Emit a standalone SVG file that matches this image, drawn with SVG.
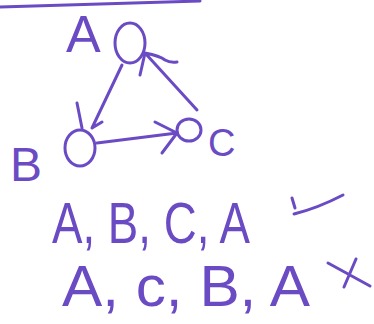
<svg xmlns="http://www.w3.org/2000/svg" width="374" height="324" viewBox="0 0 374 324">
<style>
.ink{fill:none;stroke:#6a4bc4;stroke-width:3;stroke-linecap:round;stroke-linejoin:round}
.lbl{fill:#6a4bc4;font-family:"Liberation Sans",Arial,sans-serif}
.seq{fill:#6a4bc4;font-family:"Liberation Sans",Arial,sans-serif;font-size:58px}
</style>
<rect width="374" height="324" fill="#fff"/>
<path class="ink" d="M0 7 L200 1" stroke-width="2.5"/>
<g id="node-A">
<ellipse class="ink" cx="130" cy="43" rx="15" ry="20"/>
<text class="lbl" x="66" y="52" font-size="52">A</text>
</g>
<g id="node-B">
<ellipse class="ink" cx="80" cy="148" rx="15" ry="18"/>
<text class="lbl" x="10" y="181" font-size="48">B</text>
</g>
<g id="node-C">
<ellipse class="ink" cx="189" cy="130" rx="12" ry="11"/>
<text class="lbl" x="208" y="156" font-size="38">C</text>
</g>
<g id="connectors">
<path class="ink" d="M122 65 L92 128 M77 103 L82 128 M92 128 L102 122"/>
<path class="ink" d="M97 143 L177 133 M155 122 L177 133 L162 153"/>
<path class="ink" d="M197 110 L145 53 M145 53 L140 75 M145 53 Q160 56 165 60 Q170 63 177 62"/>
</g>
<g id="sequences">
<text class="seq" x="52" y="243" textLength="198" lengthAdjust="spacingAndGlyphs">A, B, C, A</text>
<path class="ink" d="M292 198 L295 208 M294 214 Q318 208 343 195"/>
<text class="seq" x="62" y="306" textLength="248" lengthAdjust="spacingAndGlyphs">A, c, B, A</text>
<path class="ink" d="M328 263 L370 286 M344 287 L356 259"/>
</g>
</svg>
